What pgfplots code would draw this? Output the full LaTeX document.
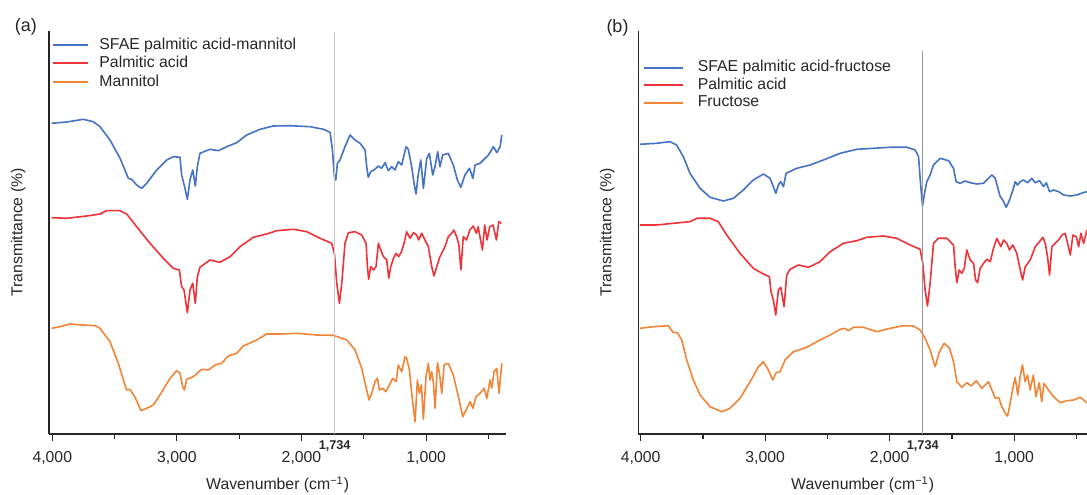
\documentclass[border=0pt]{standalone}
\usepackage{fontspec}
\setmainfont{Liberation Sans}
\usepackage{pgfplots}
\pgfplotsset{compat=1.18}

\definecolor{cblue}{HTML}{4472C4}
\definecolor{cred}{HTML}{EE3338}
\definecolor{corange}{HTML}{F08536}
\definecolor{txt}{HTML}{262626}

\pgfplotsset{
  ftir/.style={
    scale only axis,
    clip=false,
    height=201.5bp,
    x dir=reverse,
    ymin=0, ymax=403,
    axis x line*=bottom, axis y line*=left,
    axis line style={-, line width=0.8bp, txt},
    ytick=\empty,
    xtick={1000,2000,3000,4000},
    xticklabels={{1,000},{2,000},{3,000},{4,000}},
    minor xtick={500,1500,2500,3500},
    tick align=outside,
    major tick length=3.3bp, minor tick length=2.5bp,
    tick style={line width=0.6bp, txt},
    font=\fontsize{7.9bp}{9.5bp}\selectfont,
    every tick label/.append style={text=txt},
    xticklabel style={anchor=north, inner sep=0pt, yshift=-5bp},
    xlabel={Wavenumber (cm\textsuperscript{−1})},
    ylabel={Transmittance (\%)},
    xlabel style={at={(rel axis cs:0.5,0)}, anchor=center, yshift=-25.5bp, text=txt},
    ylabel style={at={(rel axis cs:0,0.5)}, anchor=center, yshift=15.5bp, text=txt},
    legend cell align=left,
    legend style={draw=none, fill=none, inner sep=0pt, text=txt,
      nodes={inner sep=0pt, text height=5.8bp, text depth=1.7bp}},
    every axis plot/.append style={line width=0.8bp, line join=round},
  }
}

\begin{document}
\begin{tikzpicture}
\useasboundingbox (0,0) rectangle (543.5bp,247.5bp);

% (a) mannitol
\begin{axis}[ftir, at={(24.65bp,30.5bp)}, anchor=south west,
  width=228.35bp, xmin=359, xmax=4024,
  legend image code/.code={\draw[#1, line width=1bp] (0bp,0bp) -- (17.5bp,0bp);},
  legend style={at={(rel axis cs:0.006,0.985)}, anchor=north west,
    row sep=1.75bp, /tikz/every odd column/.append style={column sep=5bp}}]
\addplot[cblue] coordinates {
(4005,310.7) (3885,312) (3751,314.7) (3671,312.3) (3617,307.3) (3537,294) (3456,275.7)
(3390,255.7) (3363,254.7) (3323,249) (3283,245.7) (3243,250.7) (3162,264) (3082,274)
(3029,277.3) (2975,276.7) (2962,259) (2935,245.7) (2916,234.7) (2895,254) (2873,264)
(2852,248) (2836,267.3) (2815,280.7) (2735,284.7) (2667,283.3) (2600,287.3) (2520,291.3)
(2440,299) (2333,304.7) (2226,308) (2092,308.3) (1931,307.3) (1824,304.7) (1771,301.7)
(1752,284) (1736,257.3) (1725,254) (1712,270.7) (1691,274) (1651,287.3) (1611,299)
(1570,294) (1530,290.7) (1490,284) (1477,267.3) (1464,256.7) (1445,262.3) (1410,264.7)
(1383,268) (1357,265.7) (1330,271.3) (1303,263.3) (1276,267.3) (1250,264) (1223,272.3)
(1196,269) (1161,287.3) (1143,284.7) (1116,267.3) (1097,250.7) (1081,240) (1062,260.7)
(1043,274) (1022,245.7) (995,275.7) (974,280.7) (947,259) (929,267.3) (907,282.3)
(889,267.3) (867,279) (822,280.7) (782,269) (749,254) (722,246.7) (688,259) (652,265.7)
(625,255.7) (607,269) (567,270.7) (535,274.7) (500,279) (460,287.3) (433,281.3)
(406,287.3) (393,299)
};
\addlegendentry{SFAE palmitic acid-mannitol}
\addplot[cred] coordinates {
(4005,216.3) (3885,215.7) (3724,218) (3617,220) (3564,223.3) (3456,223.3) (3403,220)
(3323,207.3) (3216,190.7) (3109,175.7) (3029,165.7) (2980,164) (2962,147.3) (2943,144)
(2916,121.3) (2895,144) (2873,150.7) (2852,130.7) (2836,157.3) (2815,166.7) (2735,174)
(2654,171.7) (2574,177.3) (2494,187.3) (2387,196.7) (2280,200) (2199,203.3) (2065,204.7)
(1958,202.3) (1851,195.7) (1758,190.7) (1736,180.7) (1717,150.7) (1696,130.7) (1677,150.7)
(1651,190.7) (1624,201.3) (1570,202.3) (1517,199) (1482,190.7) (1471,167.3) (1461,154.7)
(1445,167.3) (1423,164) (1402,167.3) (1383,190.7) (1364,184) (1343,177.3) (1316,174)
(1300,155.7) (1284,167.3) (1262,175.7) (1241,180.7) (1220,177.3) (1198,182.3) (1177,190.7)
(1156,202.3) (1129,195.7) (1102,201.3) (1076,199) (1060,194) (1036,200.7) (1009,194)
(982,187.3) (955,167.3) (937,158) (915,167.3) (889,177.3) (849,187.3) (822,197.3)
(795,200.7) (777,204) (755,197.3) (737,189) (721,164) (702,197.3) (676,194) (649,204)
(622,208) (596,200.7) (583,207.3) (548,184) (530,209) (511,194) (490,207.3) (463,209)
(436,194) (417,212.3) (396,210.7)
};
\addlegendentry{Palmitic acid}
\addplot[corange] coordinates {
(4005,105.7) (3938,107.3) (3858,110) (3751,109) (3657,108.3) (3617,105.7) (3537,92.3)
(3470,70.7) (3417,49) (3403,44) (3377,44.7) (3336,36.7) (3288,23.3) (3243,25.7) (3189,29)
(3136,39) (3055,55.7) (3002,63.3) (2975,60.7) (2954,47.3) (2940,44) (2922,54.7) (2868,57.3)
(2801,64.7) (2748,64) (2694,69) (2641,70.7) (2587,78) (2520,80.7) (2467,88) (2360,94)
(2280,100) (2172,100) (2038,100.7) (1878,99) (1744,98.7) (1637,94) (1570,84) (1517,65.7)
(1477,44) (1458,34) (1437,40.7) (1410,52.3) (1391,55.7) (1375,44) (1348,45.7) (1324,42.3)
(1295,49) (1268,55.7) (1241,52.3) (1223,69) (1196,62.3) (1169,77.3) (1156,75.7) (1134,64)
(1113,37.3) (1089,12.3) (1070,54) (1054,40.7) (1038,49) (1022,14.7) (1001,57.3) (982,70.7)
(969,54) (955,62.3) (941,50.7) (928,25.7) (909,71.3) (893,60.7) (874,40.7) (856,69)
(822,70.7) (782,59) (741,37.3) (706,17.3) (679,24) (647,32.3) (625,25.7) (599,37.3)
(567,40.7) (535,45.7) (513,35.7) (487,54) (473,45.7) (455,62.3) (433,65.7) (415,40.7)
(393,70.7)
};
\addlegendentry{Mannitol}
\addplot[line width=0.8bp, black!22, forget plot] coordinates {(1734,0) (1734,402)};
\node[font=\bfseries\fontsize{6.35bp}{7bp}\selectfont, text=txt, anchor=north, inner sep=0pt, yshift=-3bp]
  at (axis cs:1734,0) {1,734};
\node[font=\fontsize{9bp}{10bp}\selectfont, anchor=center, text=txt, xshift=-11.65bp, yshift=2.2bp]
  at (rel axis cs:0,1) {(a)};
\end{axis}

% (b) fructose
\begin{axis}[ftir, at={(319.15bp,30.5bp)}, anchor=south west,
  width=224.35bp, xmin=415, xmax=4019,
  legend image code/.code={\draw[#1, line width=1bp] (0bp,0bp) -- (19.2bp,0bp);},
  legend style={at={(rel axis cs:0.0105,0.929)}, anchor=north west,
    row sep=1.25bp, /tikz/every odd column/.append style={column sep=7bp}}]
\addplot[cblue] coordinates {
(4005,289.7) (3871,290.7) (3764,292.3) (3711,289) (3657,277.3) (3604,260.7) (3523,245.7)
(3443,236.7) (3336,233) (3255,235.7) (3175,244) (3095,254) (3014,260) (2961,255.7)
(2934,247.3) (2915,240.7) (2894,249) (2875,252.3) (2853,247.3) (2832,260.7) (2746,265.7)
(2639,269) (2532,274) (2398,280.7) (2264,284.7) (2130,285.7) (1996,286.7) (1862,286.7)
(1795,284) (1768,277.3) (1750,247.3) (1736,228) (1720,240.7) (1702,252.3) (1675,259)
(1648,269) (1594,275.7) (1527,273.3) (1487,265.7) (1466,252.3) (1434,250.7) (1393,253)
(1353,251.3) (1300,250) (1246,250.7) (1206,255.7) (1179,259) (1152,255.7) (1134,247.3)
(1112,237.3) (1091,234) (1064,226.7) (1037,234) (1010,244) (991,252.3) (973,249)
(951,252.3) (925,254) (892,251.3) (858,255.7) (831,251.3) (796,253.3) (764,247.3)
(742,251.3) (716,242.3) (684,244) (643,242.3) (603,239) (549,238) (496,239) (448,241.3)
(413,242.3)
};
\addlegendentry{SFAE palmitic acid-fructose}
\addplot[cred] coordinates {
(4005,209) (3871,209) (3737,210.7) (3604,212.3) (3550,215.7) (3443,215.7) (3376,212.3)
(3309,199) (3202,180.7) (3095,165.7) (3014,160) (2966,157.3) (2953,142.3) (2934,134)
(2915,119) (2894,144) (2875,146.7) (2848,127.3) (2827,159) (2800,164.7) (2733,169)
(2652,166.7) (2559,172.3) (2478,182.3) (2371,190.7) (2264,193.3) (2184,196.7) (2050,198)
(1943,195.7) (1835,189) (1755,184.7) (1734,170.7) (1715,144) (1696,128) (1675,150.7)
(1648,190.7) (1608,195.7) (1541,195.7) (1487,189) (1474,167.3) (1460,151.3) (1442,164)
(1420,160.7) (1401,165.7) (1380,184) (1353,174) (1326,170.7) (1310,154) (1294,151.3)
(1273,165.7) (1246,170.7) (1219,174.7) (1192,172.3) (1166,185.7) (1139,195.7) (1107,187.3)
(1085,194) (1059,190.7) (1038,184) (1011,189) (979,180.7) (951,164) (932,154) (911,167.3)
(871,174) (831,187.3) (796,192.3) (769,196.7) (750,190.7) (732,177.3) (716,159) (697,187.3)
(670,190.7) (643,194) (616,199) (590,200.7) (571,190.7) (549,179) (528,199) (501,197.3)
(482,187.3) (464,200.7) (442,190.7) (415,204)
};
\addlegendentry{Palmitic acid}
\addplot[corange] coordinates {
(4005,105.7) (3898,107.3) (3778,108.3) (3737,101.3) (3705,101.3) (3670,94) (3630,74)
(3577,54) (3523,39) (3443,27.3) (3349,22.3) (3282,25.7) (3202,35.7) (3121,52.3) (3054,67.3)
(3014,72.3) (2974,64) (2939,54) (2912,61.3) (2880,62.3) (2840,74) (2773,82.3) (2666,86.7)
(2559,94) (2478,99) (2398,104.7) (2358,105.7) (2331,103.3) (2291,106.7) (2210,106.7)
(2103,102.3) (1996,105.7) (1889,108.3) (1809,108) (1755,104) (1715,95.7) (1675,84)
(1635,67.3) (1600,82.3) (1562,90.7) (1519,85.7) (1487,72.3) (1460,52.3) (1420,46.7)
(1380,51.3) (1345,48) (1305,53.3) (1259,45.7) (1206,52.3) (1179,44) (1152,35.7) (1125,36.7)
(1099,27.3) (1072,20.7) (1053,18) (1032,30.7) (1011,45.7) (992,56.7) (971,39) (952,57.3)
(933,69) (912,52.3) (893,59) (872,44) (846,59) (825,37.3) (798,51.3) (779,32.3) (761,50.7)
(724,44) (684,37.3) (630,31.3) (576,33.3) (523,34) (469,36.7) (416,31.3)
};
\addlegendentry{Fructose}
\addplot[line width=0.6bp, black!40, forget plot] coordinates {(1734,0) (1734,383)};
\node[font=\bfseries\fontsize{6.35bp}{7bp}\selectfont, text=txt, anchor=north, inner sep=0pt, yshift=-3bp]
  at (axis cs:1734,0) {1,734};
\node[font=\fontsize{9bp}{10bp}\selectfont, anchor=center, text=txt, xshift=-10.4bp, yshift=1.5bp]
  at (rel axis cs:0,1) {(b)};
\end{axis}
\end{tikzpicture}
\end{document}
